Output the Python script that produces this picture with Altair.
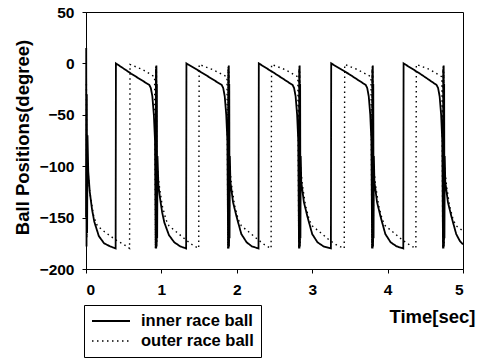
import altair as alt
import pandas as pd

# inner race ball (solid)
inner_t = [0.000, 0.003, 0.007, 0.011, 0.015, 0.020, 0.030, 0.050, 0.080, 0.110, 0.170, 0.240, 0.320, 0.393,
           0.397, 0.600, 0.840, 0.860, 0.880, 0.900, 0.915, 0.925,
           0.928, 0.931, 0.934, 0.937, 0.940, 0.944, 0.948, 0.960,
           0.980, 1.010, 1.040, 1.100, 1.170, 1.250, 1.328,
           1.332, 1.560, 1.800, 1.820, 1.840, 1.860, 1.875, 1.885,
           1.888, 1.891, 1.894, 1.897, 1.900, 1.904, 1.908, 1.915,
           1.950, 2.000, 2.060, 2.130, 2.200, 2.288,
           2.292, 2.510, 2.740, 2.760, 2.780, 2.800, 2.815, 2.825,
           2.828, 2.831, 2.834, 2.837, 2.840, 2.844, 2.848, 2.855,
           2.890, 2.940, 3.000, 3.070, 3.150, 3.248,
           3.252, 3.480, 3.710, 3.730, 3.750, 3.770, 3.785, 3.795,
           3.798, 3.801, 3.804, 3.807, 3.810, 3.814, 3.818, 3.825,
           3.860, 3.910, 3.970, 4.040, 4.120, 4.208,
           4.212, 4.430, 4.650, 4.670, 4.690, 4.710, 4.725, 4.735,
           4.738, 4.741, 4.744, 4.747, 4.750, 4.754, 4.758, 4.765,
           4.800, 4.850, 4.910, 4.960, 5.000]
inner_deg = [-150, 15, -178, -30, -165, -70, -105, -125, -142, -154, -168, -175, -178, -180,
             0, -10, -21, -24, -32, -50, -75, -180,
             -5, -180, -2, -178, -20, -170, -90, -118,
             -130, -145, -155, -167, -174, -178, -180,
             0, -10, -21, -24, -32, -50, -75, -180,
             -5, -180, -2, -178, -20, -170, -90, -115,
             -135, -150, -166, -174, -178, -180,
             0, -10, -21, -24, -32, -50, -75, -180,
             -5, -180, -2, -178, -20, -170, -90, -115,
             -135, -150, -166, -174, -178, -180,
             0, -10, -21, -24, -32, -50, -75, -180,
             -5, -180, -2, -178, -20, -170, -90, -115,
             -135, -150, -166, -174, -178, -180,
             0, -10, -21, -24, -32, -50, -75, -180,
             -5, -180, -2, -178, -20, -170, -90, -115,
             -135, -150, -166, -173, -176]

# outer race ball (dotted)
outer_t = [0.005, 0.010, 0.020, 0.050, 0.100, 0.150, 0.250, 0.400, 0.500, 0.578,
           0.584, 0.750, 0.910, 0.922,
           0.926, 0.930, 0.934, 0.939, 0.945, 0.970, 1.010, 1.060, 1.100, 1.200, 1.330, 1.420, 1.495,
           1.501, 1.680, 1.870, 1.882,
           1.886, 1.890, 1.894, 1.899, 1.905, 1.930, 1.970, 2.020, 2.060, 2.160, 2.290, 2.380, 2.455,
           2.461, 2.640, 2.810, 2.822,
           2.826, 2.830, 2.834, 2.839, 2.845, 2.870, 2.910, 2.960, 3.000, 3.100, 3.230, 3.330, 3.425,
           3.431, 3.600, 3.780, 3.792,
           3.796, 3.800, 3.804, 3.809, 3.815, 3.840, 3.880, 3.930, 3.970, 4.070, 4.200, 4.300, 4.375,
           4.381, 4.560, 4.720, 4.732,
           4.736, 4.740, 4.744, 4.749, 4.755, 4.780, 4.820, 4.870, 4.910, 5.000]
outer_deg = [-20, -170, -100, -125, -148, -158, -164, -172, -176, -180,
             -1, -6, -13, -180,
             -3, -178, -8, -175, -100, -118, -138, -152, -158, -164, -172, -177, -180,
             -1, -6, -13, -180,
             -3, -178, -8, -175, -100, -118, -138, -152, -158, -164, -172, -177, -180,
             -1, -6, -13, -180,
             -3, -178, -8, -175, -100, -118, -138, -152, -158, -164, -172, -177, -180,
             -1, -6, -13, -180,
             -3, -178, -8, -175, -100, -118, -138, -152, -158, -164, -172, -177, -180,
             -1, -6, -13, -180,
             -3, -178, -8, -175, -100, -118, -138, -152, -158, -163]

series_names = ["inner race ball", "outer race ball"]
x_ticks = [0, 1, 2, 3, 4, 5]
y_ticks = [-200, -150, -100, -50, 0, 50]

rows = []
for i, (t, d) in enumerate(zip(inner_t, inner_deg)):
    rows.append({"t": t, "deg": d, "series": series_names[0], "order": i})
for i, (t, d) in enumerate(zip(outer_t, outer_deg)):
    rows.append({"t": t, "deg": d, "series": series_names[1], "order": i})
df = pd.DataFrame(rows)

FONT = "Liberation Sans"


def make_legend():
    return alt.Legend(orient="none", legendX=-2, legendY=293,
                      strokeColor="black", padding=7,
                      symbolType="stroke", symbolSize=1444,
                      symbolStrokeColor="black",
                      labelFont=FONT, labelFontWeight="bold",
                      labelFontSize=16.5, labelColor="black",
                      clipHeight=18, rowPadding=2, labelOffset=10)


chart = alt.Chart(df).mark_line(color="black", strokeCap="butt").encode(
    x=alt.X("t:Q", scale=alt.Scale(domain=[0, 5], nice=False),
            axis=alt.Axis(values=x_ticks, title="Time[sec]", titleAlign="right",
                          titleX=389, titleY=53, titleBaseline="alphabetic",
                          titleFontSize=18.5, labelPadding=9)),
    y=alt.Y("deg:Q", scale=alt.Scale(domain=[-200, 50], nice=False),
            axis=alt.Axis(values=y_ticks, title="Ball Positions(degree)",
                          titleX=-64, titleY=125, titleAlign="center", titleBaseline="middle",
                          titleFontSize=18.5, labelPadding=8)),
    strokeDash=alt.StrokeDash("series:N", title=None,
                              scale=alt.Scale(domain=series_names, range=[[1, 0], [1.5, 3.5]]),
                              legend=make_legend()),
    strokeWidth=alt.StrokeWidth("series:N", title=None,
                                scale=alt.Scale(domain=series_names, range=[1.8, 1.4]),
                                legend=make_legend()),
    detail="series:N",
    order="order:Q",
).properties(
    width=377, height=257,
    autosize=alt.AutoSizeParams(type="none"),
    padding={"left": 86, "top": 12, "right": 20, "bottom": 90},
).configure_view(
    stroke="black", strokeWidth=1
).configure_axis(
    grid=False, domainColor="black", tickColor="black", tickSize=4,
    labelFont=FONT, labelFontWeight="bold", labelFontSize=15.5, labelColor="black",
    titleFont=FONT, titleFontWeight="bold", titleColor="black",
)

chart.save("out.html", embed_options={"renderer": "svg", "actions": False})
